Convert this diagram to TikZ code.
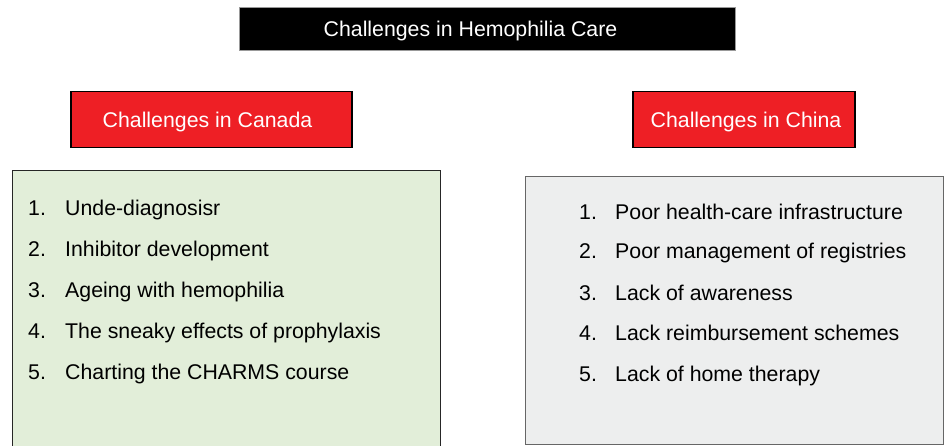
\documentclass[tikz,border=0pt]{standalone}
\usepackage{fontspec}
\setmainfont{Liberation Sans}
\definecolor{boxred}{HTML}{EE1F25}
\definecolor{boxgreen}{HTML}{E2EED9}
\definecolor{boxgray}{HTML}{EDEEEE}
\begin{document}
\begin{tikzpicture}[x=1pt, y=-1pt, font=\fontsize{21.3}{25}\selectfont,
  title_style/.style={draw=black!40, fill=black, text=white, minimum width=496pt, minimum height=43pt, inner sep=0pt, text depth=0pt},
  head_style/.style={draw=black, line width=1.4pt, fill=boxred, text=white, minimum height=56pt, inner sep=0pt, text depth=0pt},
  list_style/.style={line width=1.4pt, minimum width=#1, anchor=north west, inner sep=0pt},
  item_style/.style={anchor=base west, inner sep=0pt}]
  \clip (0,0) rectangle (945,445);
  % title and headers
  \draw
    (487.0, 28.5) node[title_style] (title){\hspace*{-33pt}Challenges in Hemophilia Care}
    (211.5, 119.5) node[head_style, minimum width=281pt] (canada){\hspace*{-8pt}Challenges in Canada}
    (744.0, 119.5) node[head_style, minimum width=222pt] (china){\hspace*{4pt}Challenges in China};
  % list boxes
  \node[list_style=428pt, draw=black!85, fill=boxgreen, minimum height=290pt] (canlist) at (12, 170) {};
  \node[list_style=418pt, draw=black!60, fill=boxgray, minimum height=268pt] (chnlist) at (525, 176) {};
  % Canada items
  \draw
    (28, 215) node[item_style] (c1){1.}  (65, 215) node[item_style] (ct1){Unde-diagnosisr}
    (28, 256) node[item_style] (c2){2.}  (65, 256) node[item_style] (ct2){Inhibitor development}
    (28, 297) node[item_style] (c3){3.}  (65, 297) node[item_style] (ct3){Ageing with hemophilia}
    (28, 338) node[item_style] (c4){4.}  (65, 338) node[item_style] (ct4){The sneaky effects of prophylaxis}
    (28, 379) node[item_style] (c5){5.}  (65, 379) node[item_style] (ct5){Charting the CHARMS course};
  % China items
  \draw
    (579, 219) node[item_style] (h1){1.}  (615, 219) node[item_style] (ht1){Poor health-care infrastructure}
    (579, 258) node[item_style] (h2){2.}  (615, 258) node[item_style] (ht2){Poor management of registries}
    (579, 300) node[item_style] (h3){3.}  (615, 300) node[item_style] (ht3){Lack of awareness}
    (579, 340) node[item_style] (h4){4.}  (615, 340) node[item_style] (ht4){Lack reimbursement schemes}
    (579, 381) node[item_style] (h5){5.}  (615, 381) node[item_style] (ht5){Lack of home therapy};
\end{tikzpicture}
\end{document}
